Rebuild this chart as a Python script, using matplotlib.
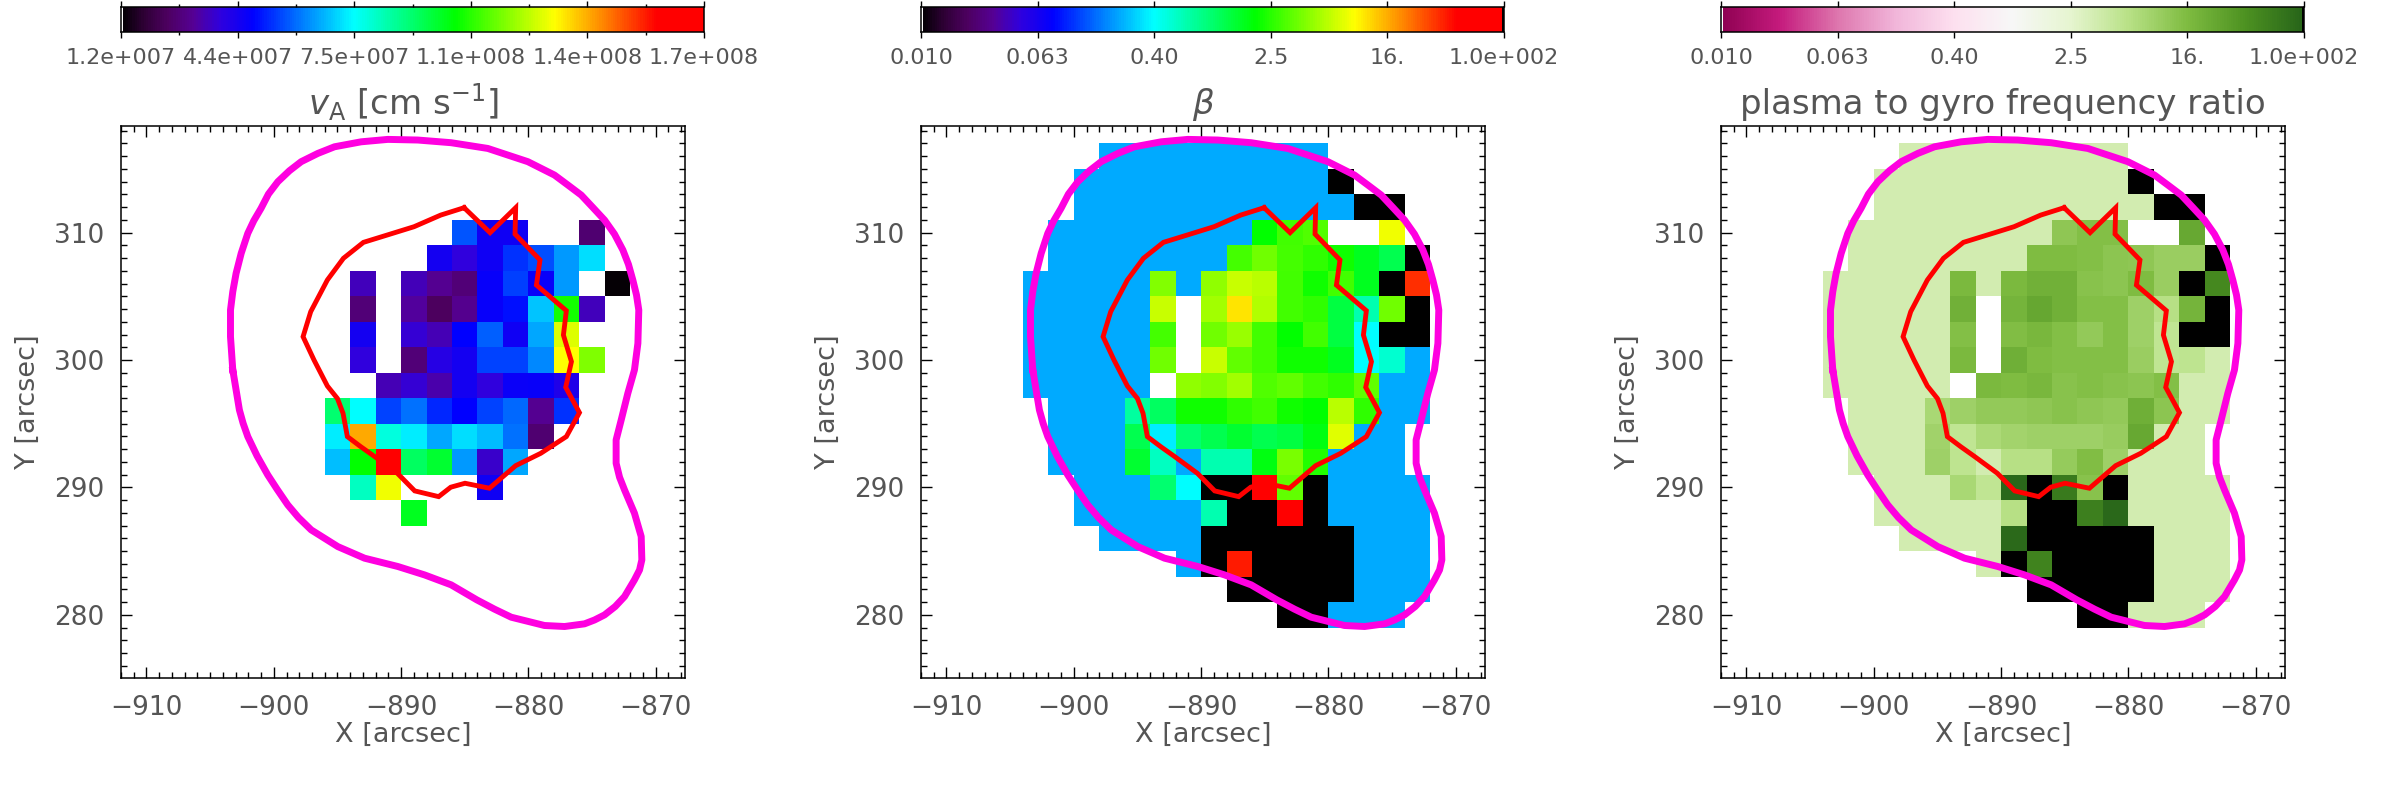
import numpy as np
import matplotlib
matplotlib.use("Agg")
import matplotlib.pyplot as plt
from matplotlib.colors import LinearSegmentedColormap, Normalize
from matplotlib.ticker import MultipleLocator

N = np.nan
O = 3.0      # above the colour range (drawn black)
L = -0.632   # beta plateau
P = 0.564    # frequency-ratio plateau

x_edges = list(range(-904, -870, 2))
y_edges = list(range(317, 277, -2))

# Alfven speed, units of 1e7 cm/s
va_rows = [
    [N]*16, [N]*16, [N]*16,
    [N,N,N,N,N,N,N,N,N,5.70,4.52,4.52,N,N,2.69,N],
    [N,N,N,N,N,N,N,N,4.44,3.89,4.52,5.31,5.64,6.43,7.16,N],
    [N,N,N,N,N,3.57,N,3.52,3.13,2.78,4.68,5.47,4.63,6.43,N,1.28],
    [N,N,N,N,N,2.78,N,3.25,2.46,3.10,4.68,4.96,6.89,10.46,3.57,N],
    [N,N,N,N,N,4.44,N,3.81,3.49,4.79,5.81,4.52,6.60,12.61,N,N],
    [N,N,N,N,N,3.89,N,2.78,4.08,4.44,5.51,5.51,6.24,12.97,11.63,N],
    [N,N,N,N,N,N,3.49,3.81,3.41,4.44,3.89,4.60,4.63,4.20,N,N],
    [N,N,N,N,9.07,7.52,5.51,5.99,5.21,4.79,5.51,5.91,3.13,5.31,N,N],
    [N,N,N,N,7.33,13.89,7.88,7.33,6.60,7.16,6.79,5.99,2.69,N,N,N],
    [N,N,N,N,6.84,10.29,16.37,9.24,9.76,6.43,3.73,6.60,N,N,N,N],
    [N,N,N,N,N,8.20,12.81,N,N,N,4.52,N,N,N,N,N],
    [N,N,N,N,N,N,N,9.94,N,N,N,N,N,N,N,N],
    [N]*16, [N]*16, [N]*16, [N]*16,
]

# log10 plasma beta
beta_rows = [
    [N,N,N,L,L,L,L,L,L,L,L,L,N,N,N,N],
    [N,N,L,L,L,L,L,L,L,L,L,L,O,N,N,N],
    [N,N,L,L,L,L,L,L,L,L,L,L,L,O,O,N],
    [N,L,L,L,L,L,L,L,L,.30,.471,.513,N,N,.94,N],
    [N,L,L,L,L,L,L,L,.484,.599,.484,.428,.343,.212,.08,O],
    [L,L,L,L,L,.642,L,.684,.834,.791,.471,.343,.471,.212,O,1.55],
    [L,L,L,L,L,.834,N,.727,1.048,.77,.471,.428,.124,-.183,.599,O],
    [L,L,L,L,L,.484,N,.599,.706,.471,.30,.471,.124,-.40,O,O],
    [L,L,L,L,L,.599,N,.834,.556,.471,.343,.343,.212,-.40,-.271,L],
    [L,L,L,L,L,N,.684,.642,.727,.513,.556,.471,.428,.556,L,L],
    [N,L,L,L,-.139,.036,.343,.343,.428,.471,.343,.30,.791,.428,L,L],
    [N,L,L,L,.08,-.448,-.007,.08,.168,.08,.124,.256,.898,L,L,N],
    [N,L,L,L,.168,-.227,L,-.183,-.183,.256,.62,.385,L,L,L,N],
    [N,N,L,L,L,-.007,-.40,O,O,1.85,.556,O,L,L,L,L],
    [N,N,L,L,L,L,L,-.183,O,O,1.85,O,L,L,L,L],
    [N,N,N,L,L,L,L,O,O,O,O,O,O,L,L,L],
    [N,N,N,N,N,N,L,O,1.608,O,O,O,O,L,L,L],
    [N,N,N,N,N,N,N,N,O,O,O,O,O,L,L,L],
    [N,N,N,N,N,N,N,N,N,N,O,O,L,L,L,N],
]

# log10 plasma to gyro frequency ratio
ratio_rows = [
    [N,N,N,P,P,P,P,P,P,P,P,P,N,N,N,N],
    [N,N,P,P,P,P,P,P,P,P,P,P,O,N,N,N],
    [N,N,P,P,P,P,P,P,P,P,P,P,P,O,O,N],
    [N,P,P,P,P,P,P,P,P,1.08,1.16,1.16,N,N,1.38,N],
    [N,P,P,P,P,P,P,P,1.20,1.20,1.16,1.10,1.08,1.0,1.0,O],
    [P,P,P,P,P,1.22,P,1.22,1.30,1.30,1.14,1.10,1.20,1.0,O,1.68],
    [P,P,P,P,P,1.30,N,1.28,1.40,1.30,1.16,1.16,.98,.80,1.28,O],
    [P,P,P,P,P,1.16,N,1.18,1.24,1.16,1.06,1.16,.98,.72,O,O],
    [P,P,P,P,P,1.22,N,1.32,1.20,1.16,1.16,1.16,1.0,.72,.74,P],
    [P,P,P,P,P,N,1.22,1.20,1.24,1.14,1.16,1.14,1.10,1.16,P,P],
    [N,P,P,P,.90,.98,1.06,1.06,1.08,1.14,1.08,1.06,1.32,1.10,P,P],
    [N,P,P,P,.96,.72,.88,.94,.98,.98,.98,1.02,1.38,P,P,N],
    [N,P,P,P,.98,.74,P,.80,.80,1.04,1.18,.98,P,P,P,N],
    [N,N,P,P,P,.90,.72,1.96,O,1.80,1.14,O,P,P,P,P],
    [N,N,P,P,P,P,P,.80,O,O,1.76,1.96,P,P,P,P],
    [N,N,N,P,P,P,P,1.94,O,O,O,O,O,P,P,P],
    [N,N,N,N,N,N,P,O,1.72,O,O,O,O,P,P,P],
    [N,N,N,N,N,N,N,N,O,O,O,O,O,P,P,P],
    [N,N,N,N,N,N,N,N,N,N,O,O,P,P,P,N],
]

magenta_x = [-903.22,-903.4,-903.4,-903.22,-902.96,-902.56,-902.04,-901.57,-901.0,-900.42,-899.68,
             -898.77,-897.85,-896.54,-895.23,-893.14,-891.04,-888.69,-886.07,-883.19,-880.04,
             -877.95,-876.9,-875.85,-874.94,-874.02,-873.24,-872.58,-872.14,-871.8,-871.51,
             -871.33,-871.4,-871.67,-872.19,-872.71,-873.11,-873.11,-872.84,-872.45,-871.67,-871.14,
             -871.09,-871.27,-871.67,-872.45,-873.18,-874.02,-874.81,-875.59,-877.16,-878.74,
             -881.35,-882.66,-884.05,-886.07,-888.16,-890.26,-892.87,-894.97,-897.06,-898.06,
             -898.9,-899.74,-900.47,-901.31,-902.04,-902.41,-902.7,-903.09,-903.22]
magenta_y = [299.22,301.83,303.92,305.36,306.8,308.37,309.94,310.93,311.9,313.02,313.99,
             314.85,315.56,316.21,316.73,317.12,317.31,317.26,317.05,316.6,315.56,
             314.51,313.73,312.94,311.97,310.98,309.88,308.63,307.5,306.28,305.1,
             303.92,301.31,299.22,297.39,295.3,293.73,291.9,290.8,289.81,287.98,286.15,
             284.32,283.53,282.75,281.44,280.66,280.0,279.6,279.3,279.09,279.17,
             279.82,280.45,281.18,282.36,283.14,283.8,284.45,285.36,286.67,287.64,
             288.63,289.86,290.98,292.47,293.99,295.04,296.08,298.44,299.22]
red_x = [-885.05,-883.01,-881.0,-881.05,-879.09,-879.37,-877.02,-877.25,-876.62,-877.07,
         -875.99,-877.02,-879.03,-881.0,-883.06,-884.98,-886.1,-887.05,-888.93,-890.29,
         -892.07,-893.17,-894.22,-894.56,-895.0,-895.79,-896.84,-897.7,-897.1,-895.79,
         -894.53,-892.96,-891.08,-888.98,-886.89,-885.05]
red_y = [311.95,309.99,311.95,309.88,307.85,305.88,303.87,301.96,299.87,297.86,
         295.87,293.99,292.68,291.71,289.94,290.33,290.02,289.28,289.73,291.11,
         292.42,293.2,293.99,295.82,296.98,297.96,300.0,301.83,303.79,306.28,
         307.98,309.23,309.81,310.46,311.37,311.95]

va_ticks = [1.2e7, 4.36e7, 7.52e7, 1.068e8, 1.384e8, 1.7e8]
va_labels = ["1.2e+007","4.4e+007","7.5e+007","1.1e+008","1.4e+008","1.7e+008"]
log_ticks = [-2.0, -1.2, -0.4, 0.4, 1.2, 2.0]
log_labels = ["0.010","0.063","0.40","2.5","16.","1.0e+002"]
x_ticks = [-910, -900, -890, -880, -870]
y_ticks = [280, 290, 300, 310]

TXT = "#555555"
plt.rcParams["font.family"] = ["DejaVu Sans"]
plt.rcParams["mathtext.fontset"] = "dejavusans"

rainbow = LinearSegmentedColormap.from_list("idlrainbow", [
    (0.0, "#000000"), (0.04, "#2e0035"), (0.08, "#4d0060"), (0.125, "#550095"),
    (0.17, "#3000dd"), (0.227, "#0000ff"), (0.4, "#00ffff"), (0.575, "#00ff00"),
    (0.745, "#ffff00"), (0.92, "#ff0000"), (1.0, "#ff0000")], N=512)
rainbow = rainbow.copy()
rainbow.set_over("black")
rainbow.set_bad("white")
piyg = plt.get_cmap("PiYG").copy()
piyg.set_over("black")
piyg.set_bad("white")

W, H = 2400.0, 800.0
fig = plt.figure(figsize=(24, 8), dpi=100, facecolor="white")


def px_axes(x0, x1, y0, y1):
    return fig.add_axes([x0/W, 1-y1/H, (x1-x0)/W, (y1-y0)/H])


panels = [
    (121, np.array(va_rows)*1e7, rainbow, Normalize(1.2e7, 1.7e8), va_ticks, va_labels, True,
     r"$\mathit{v}_{\mathrm{A}}$ [cm s$^{-1}$]"),
    (921, np.array(beta_rows), rainbow, Normalize(-2, 2), log_ticks, log_labels, False,
     r"$\mathit{\beta}$"),
    (1721, np.array(ratio_rows), piyg, Normalize(-2, 2), log_ticks, log_labels, False,
     "plasma to gyro frequency ratio"),
]

for x0, z, cmap, norm, cticks, clabels, linear, title in panels:
    ax = px_axes(x0, x0+564, 125.5, 678)
    ax.pcolormesh(x_edges, y_edges, np.ma.masked_invalid(z), cmap=cmap, norm=norm,
                  shading="flat", antialiased=False, linewidth=0)
    ax.plot(magenta_x, magenta_y, color="#ff00e0", lw=5.0, solid_joinstyle="round", zorder=3)
    ax.plot(red_x, red_y, color="#ff0000", lw=3.5, solid_joinstyle="miter", zorder=4)
    ax.set_xlim(-912, -867.7)
    ax.set_ylim(275.05, 318.4)
    ax.set_xticks(x_ticks)
    ax.set_yticks(y_ticks)
    ax.xaxis.set_minor_locator(MultipleLocator(1))
    ax.yaxis.set_minor_locator(MultipleLocator(1))
    ax.tick_params(which="major", direction="in", top=True, right=True, length=8, width=1.0,
                   labelsize=19, labelcolor=TXT, pad=12)
    ax.tick_params(which="minor", direction="in", top=True, right=True, length=4.3, width=1.0)
    for s in ax.spines.values():
        s.set_linewidth(1.1)
    ax.set_xlabel("X [arcsec]", fontsize=19.5, color=TXT, va="center")
    ax.set_ylabel("Y [arcsec]", fontsize=19.5, color=TXT, va="center")
    ax.xaxis.set_label_coords(0.5, -0.103)
    ax.yaxis.set_label_coords(-0.165, 0.5)
    ax.set_title(title, fontsize=24.5, color=TXT, pad=8)

    cax = px_axes(x0, x0+583, 7, 32)
    lo, hi = norm.vmin, norm.vmax
    grad = np.linspace(lo, hi, 257)
    gz = ((grad[:-1]+grad[1:])/2)[None, :]
    gz[0, 0] = np.nan
    if not linear:
        gz[0, -1] = hi + 1
    cax.pcolormesh(grad, [0, 1], np.ma.masked_invalid(gz), cmap=cmap, norm=norm,
                   shading="flat", antialiased=False, linewidth=0)
    cax.set_xlim(lo, hi)
    cax.set_ylim(0, 1)
    cax.set_yticks([])
    cax.set_xticks(cticks)
    cax.set_xticklabels(clabels)
    if linear:
        cax.set_xticks([(a+b)/2 for a, b in zip(cticks[:-1], cticks[1:])], minor=True)
    cax.tick_params(which="major", direction="out", top=True, length=4.5, width=1.0,
                    labelsize=16, labelcolor=TXT, pad=7)
    cax.tick_params(which="minor", direction="out", top=True, length=2.5, width=1.0)
    for s in cax.spines.values():
        s.set_linewidth(1.1)

fig.savefig("out.png", dpi=100)
